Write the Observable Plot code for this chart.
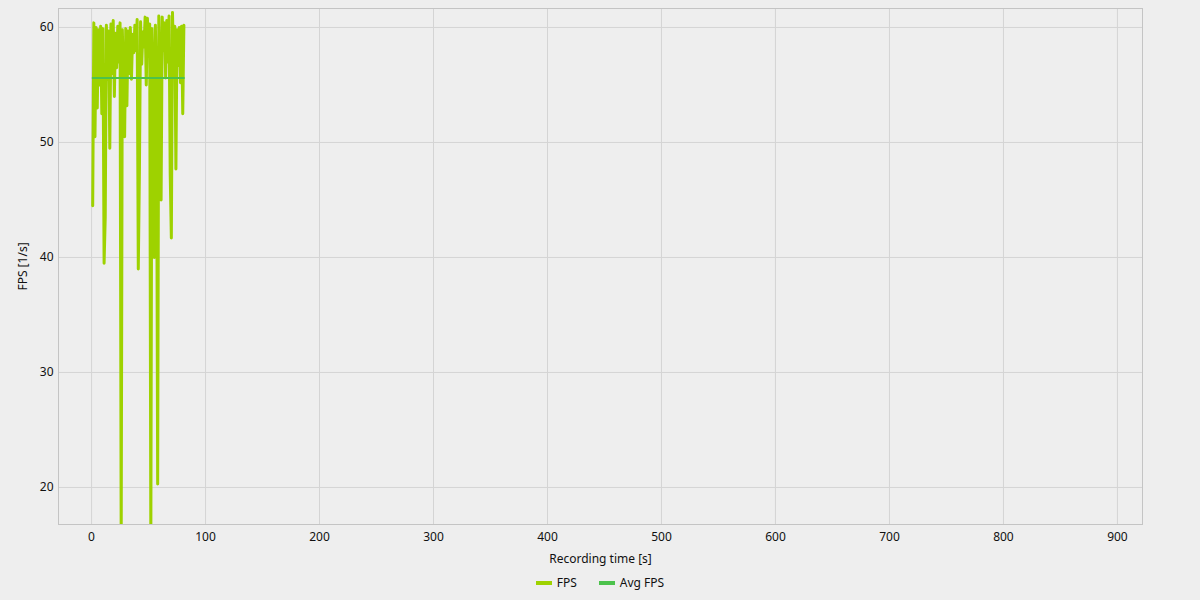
<!DOCTYPE html>
<html>
<head>
<meta charset="utf-8">
<script src="https://cdn.jsdelivr.net/npm/d3@7"></script>
<script src="https://cdn.jsdelivr.net/npm/@observablehq/plot@0.6"></script>
<style>
  html, body { margin: 0; padding: 0; background: #eeeeee; }
  body { width: 1200px; height: 600px; overflow: hidden; font-family: "Noto Sans", sans-serif; color: #111; }
  #legend { display: flex; justify-content: center; gap: 22px; font-size: 12px; margin-top: 2px; }
  .item { display: flex; align-items: center; gap: 5px; }
  .sw { width: 16px; height: 4px; display: inline-block; }
</style>
</head>
<body>
<div id="chart"></div>
<div id="legend"></div>
<script>
const time = [1,2,3,4,5,6,7,8,9,10,11,12,13,14,15,16,17,18,19,20,21,22,23,24,25,26,27,28,29,30,31,32,33,34,35,36,37,38,39,40,41,42,43,44,45,46,47,48,49,50,51,52,53,54,55,56,57,58,59,60,61,62,63,64,65,66,67,68,69,70,71,72,73,74,75,76,77,78,79,80,81];
const fps = [44.5,60.4,50.5,60.0,53,59.8,55,60.1,52.5,59.9,39.5,43.5,60.2,55.5,59.7,49.5,60.3,56,60.6,54,59.5,56.5,60.1,57,60.4,15,59.8,55.3,50.5,59.9,53.2,59.7,56,60,55.5,59.4,57.8,60.2,58,60.7,39,47.7,60.5,56.8,59.6,58.3,60.9,55,60.8,57.5,60.3,15,59.9,55.8,40,60.2,54,20.3,61,56,45,60.9,58,60.4,55.6,60.6,57,61,47.3,41.7,61.3,56.4,60.1,47.7,59.8,56.7,60,55.2,60.1,52.5,60.2];
const avgTime = [1, 81];
const avgFps = [55.6, 55.6];
const xTicks = [0,100,200,300,400,500,600,700,800,900];
const yTicks = [20,30,40,50,60];
const seriesNames = ["FPS", "Avg FPS"];
const seriesColors = ["#9ed200", "#4cc24c"];

const data = time.map((t, i) => ({t, v: fps[i]}));
const avg = avgTime.map((t, i) => ({t, v: avgFps[i]}));

const chart = Plot.plot({
  width: 1200, height: 572,
  marginLeft: 58, marginRight: 58, marginTop: 8, marginBottom: 48,
  style: { background: "#eeeeee", fontFamily: "Noto Sans", fontSize: "12px", color: "#111" },
  x: { domain: [-29, 922] },
  y: { domain: [16.78, 61.65] },
  marks: [
    Plot.gridX(xTicks, { stroke: "#d4d4d4", strokeOpacity: 1 }),
    Plot.gridY(yTicks, { stroke: "#d4d4d4", strokeOpacity: 1 }),
    Plot.axisX(xTicks, { tickSize: 0, tickPadding: 8, label: "Recording time [s]", labelAnchor: "center", labelArrow: "none", labelOffset: 38 }),
    Plot.axisY(yTicks, { tickSize: 0, tickPadding: 5, label: "FPS [1/s]", labelAnchor: "center", labelArrow: "none", labelOffset: 40 }),
    Plot.line(data, { x: "t", y: "v", stroke: seriesColors[0], strokeWidth: 3, clip: true }),
    Plot.line(avg, { x: "t", y: "v", stroke: seriesColors[1], strokeWidth: 2, clip: true }),
    Plot.frame({ stroke: "#c4c4c4", strokeOpacity: 1 })
  ]
});
document.getElementById("chart").appendChild(chart);

const legend = document.getElementById("legend");
seriesNames.forEach((n, i) => {
  const it = document.createElement("div");
  it.className = "item";
  it.innerHTML = `<span class="sw" style="background:${seriesColors[i]}"></span><span>${n}</span>`;
  legend.appendChild(it);
});
</script>
</body>
</html>
